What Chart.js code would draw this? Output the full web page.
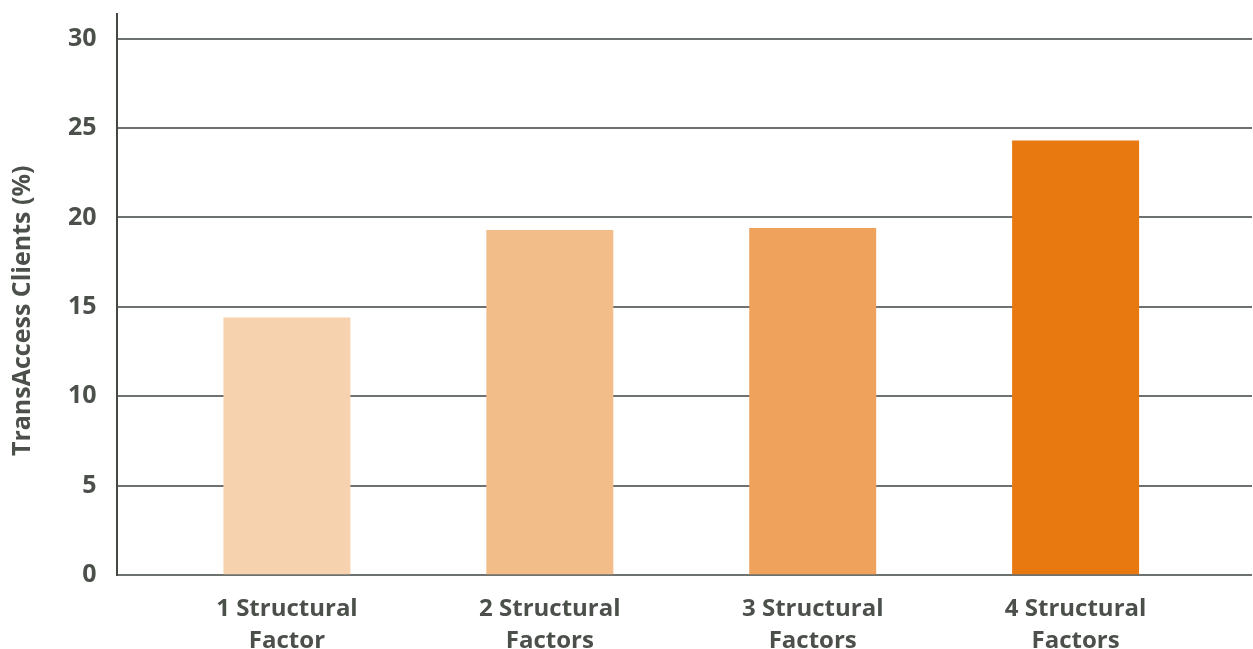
<!DOCTYPE html>
<html>
<head>
<meta charset="utf-8">
<script src="https://cdn.jsdelivr.net/npm/chart.js@4.4.1/dist/chart.umd.min.js"></script>
<style>
  html, body { margin: 0; padding: 0; background: #fff; }
  #wrap { width: 1253px; height: 649px; }
</style>
</head>
<body>
<div id="wrap"><canvas id="barChart"></canvas></div>
<script>
// categories and values
const categories = [["1 Structural", "Factor"], ["2 Structural", "Factors"], ["3 Structural", "Factors"], ["4 Structural", "Factors"]];
const clientShare = [14.4, 19.3, 19.4, 24.3];
const barColors = ['#F6D2AE', '#F2BD88', '#EEA25C', '#E87810'];
const yTicks = [0, 5, 10, 15, 20, 25, 30];

const textColor = '#4b504b';
const fontFamily = "'Open Sans', 'DejaVu Sans', sans-serif";

const points = clientShare.map(function(v, i) { return { x: i, y: v }; });

const ctx = document.getElementById('barChart');
const chart = new Chart(ctx, {
  type: 'bar',
  data: {
    datasets: [{
      label: 'TransAccess Clients (%)',
      data: points,
      backgroundColor: barColors,
      borderWidth: 0,
      barPercentage: 0.966,
      categoryPercentage: 0.5
    }]
  },
  options: {
    responsive: true,
    maintainAspectRatio: false,
    animation: false,
    layout: { padding: { top: 14, right: 1, left: 0, bottom: -26 } },
    plugins: {
      legend: { display: false },
      tooltip: { enabled: false }
    },
    scales: {
      x: {
        type: 'linear',
        offset: false,
        min: -0.648,
        max: 3.671,
        afterBuildTicks: function(scale) {
          scale.ticks = categories.map(function(c, i) { return { value: i }; });
        },
        grid: { display: false, drawTicks: false },
        border: { display: false },
        ticks: {
          color: textColor,
          padding: 18,
          maxRotation: 0,
          autoSkip: false,
          font: { family: fontFamily, size: 24, weight: 'bold', lineHeight: 1.33 },
          callback: function(value) { return categories[value]; }
        }
      },
      y: {
        min: 0,
        max: 31.37,
        afterBuildTicks: function(scale) {
          scale.ticks = yTicks.map(function(v) { return { value: v }; });
        },
        // no overhang for the top label, the axis line starts above 30
        afterFit: function(scale) {
          scale.paddingTop = 0;
          scale.paddingBottom = 0;
        },
        grid: {
          color: '#6e726e',
          lineWidth: 2,
          drawTicks: false
        },
        border: { display: true, color: '#434843', width: 2 },
        ticks: {
          color: textColor,
          padding: 20,
          font: { family: fontFamily, size: 25, weight: 'bold' }
        },
        title: {
          display: true,
          text: 'TransAccess Clients (%)     ',
          color: textColor,
          padding: { top: 8, bottom: 10 },
          font: { family: fontFamily, size: 25, weight: 'bold' }
        }
      }
    }
  }
});
</script>
</body>
</html>
